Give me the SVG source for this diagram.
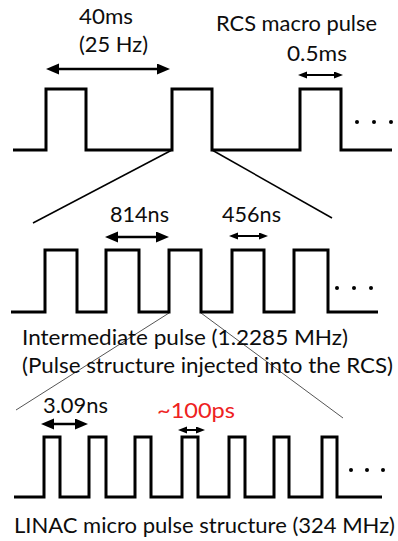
<svg xmlns="http://www.w3.org/2000/svg" width="398" height="541" viewBox="0 0 398 541">
<style>
.wave{fill:none;stroke:#000;stroke-width:3;stroke-linejoin:miter}
.zoom{fill:none;stroke:#000;stroke-width:1.5}
.zoom2{fill:none;stroke:#555;stroke-width:1}
.arr{stroke:#000;stroke-width:2.5;fill:none}
.arrs{stroke:#000;stroke-width:2;fill:none}
.dot{fill:#000}
text{font-family:Lato,"Liberation Sans",sans-serif;fill:#0d0d0d;font-size:21px}
.red{fill:#ee2222}
</style>
<defs>
<marker id="hb" markerUnits="userSpaceOnUse" markerWidth="14" markerHeight="12" refX="2" refY="5.5" orient="auto-start-reverse" viewBox="0 0 14 12">
<path d="M0,0 L13,5.5 L0,11 z" fill="#000"/>
</marker>
<marker id="hs" markerUnits="userSpaceOnUse" markerWidth="10" markerHeight="8" refX="2" refY="3.5" orient="auto-start-reverse" viewBox="0 0 10 8">
<path d="M0,0 L9,3.5 L0,7 z" fill="#000"/>
</marker>
</defs>

<g id="connectors">
<line class="zoom" x1="172" y1="150" x2="33" y2="223"/>
<line class="zoom" x1="212" y1="150" x2="332" y2="218"/>
<line class="zoom2" x1="169" y1="313" x2="16" y2="410"/>
<line class="zoom2" x1="201" y1="313" x2="343" y2="418"/>
</g>

<g id="rcs-macro-pulse">
<path class="wave" d="M13,150 H46 V89 H86 V150 H172 V89 H212 V150 H300 V89 H341 V150 H392"/>
<circle class="dot" cx="357" cy="122" r="2"/>
<circle class="dot" cx="374" cy="122" r="2"/>
<circle class="dot" cx="391" cy="122" r="2"/>
<line class="arr" x1="57" y1="69" x2="159" y2="69" marker-start="url(#hb)" marker-end="url(#hb)"/>
<text x="79" y="24" textLength="54" lengthAdjust="spacingAndGlyphs">40ms</text>
<text x="79" y="52" textLength="69" lengthAdjust="spacingAndGlyphs">(25 Hz)</text>
<text x="216" y="31" textLength="161" lengthAdjust="spacingAndGlyphs">RCS macro pulse</text>
<line class="arrs" x1="305" y1="75" x2="336" y2="75" marker-start="url(#hs)" marker-end="url(#hs)"/>
<text x="287" y="61" textLength="60" lengthAdjust="spacingAndGlyphs">0.5ms</text>
</g>

<g id="intermediate-pulse">
<path class="wave" d="M11,312 H45 V250 H77 V312 H106 V250 H139 V312 H169 V250 H201 V312 H232 V250 H264 V312 H294 V250 H328 V312 H378"/>
<circle class="dot" cx="337" cy="288" r="2"/>
<circle class="dot" cx="354" cy="288" r="2"/>
<circle class="dot" cx="371" cy="288" r="2"/>
<line class="arr" x1="116" y1="237" x2="158" y2="237" marker-start="url(#hb)" marker-end="url(#hb)"/>
<text x="110" y="222" textLength="59" lengthAdjust="spacingAndGlyphs">814ns</text>
<line class="arrs" x1="236" y1="236" x2="261" y2="236" marker-start="url(#hs)" marker-end="url(#hs)"/>
<text x="222" y="222" textLength="59" lengthAdjust="spacingAndGlyphs">456ns</text>
<text x="22" y="345" font-size="22" textLength="326" lengthAdjust="spacingAndGlyphs">Intermediate pulse (1.2285 MHz)</text>
<text x="22" y="373" font-size="22" textLength="371" lengthAdjust="spacingAndGlyphs">(Pulse structure injected into the RCS)</text>
</g>

<g id="linac-micro-pulse">
<path class="wave" d="M14,497 H44 V437 H60 V497 H89 V437 H106 V497 H135 V437 H151 V497 H182 V437 H198 V497 H229 V437 H245 V497 H274 V437 H289 V497 H322 V437 H337 V497 H382"/>
<circle class="dot" cx="351" cy="470" r="2"/>
<circle class="dot" cx="367" cy="470" r="2"/>
<circle class="dot" cx="383" cy="470" r="2"/>
<line class="arr" x1="52" y1="424" x2="77" y2="424" marker-start="url(#hb)" marker-end="url(#hb)"/>
<text x="43" y="413" textLength="65" lengthAdjust="spacingAndGlyphs">3.09ns</text>
<line class="arrs" x1="185" y1="430" x2="198" y2="430" marker-start="url(#hs)" marker-end="url(#hs)"/>
<text class="red" x="157" y="418" textLength="78" lengthAdjust="spacingAndGlyphs">~100ps</text>
<text x="14" y="533" font-size="22" textLength="381" lengthAdjust="spacingAndGlyphs">LINAC micro pulse structure (324 MHz)</text>
</g>
</svg>
